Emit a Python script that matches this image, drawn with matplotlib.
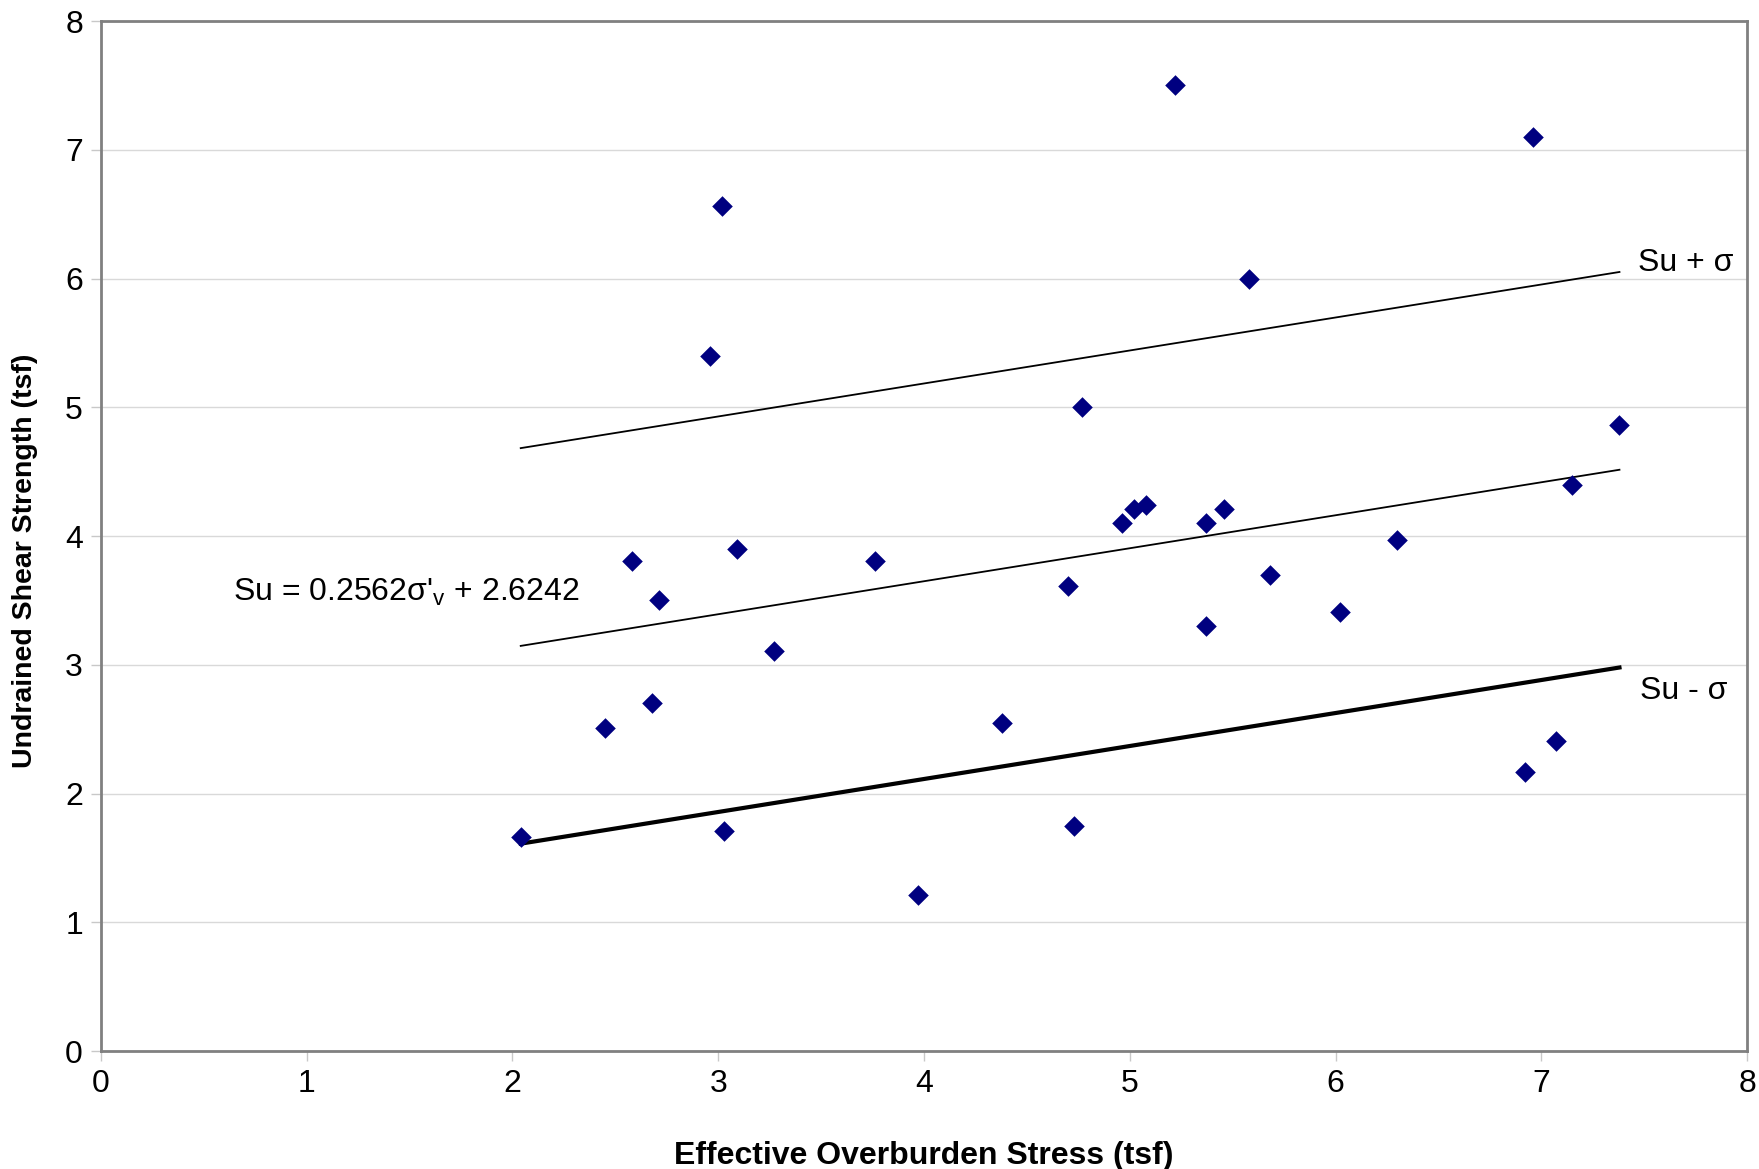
import numpy as np
import matplotlib
matplotlib.use("Agg")
import matplotlib.pyplot as plt

# -------------------------------------------
#  Data
# -------------------------------------------
stress = [5.22, 6.96, 3.02, 5.58, 2.96, 4.77, 7.38, 7.15, 5.08, 5.02, 4.96,
          5.46, 5.37, 6.30, 3.09, 2.58, 3.76, 2.71, 4.70, 5.68, 6.02, 5.37,
          3.27, 2.68, 2.45, 4.38, 7.07, 6.92, 2.04, 3.03, 4.73, 3.97]
strength = [7.50, 7.10, 6.56, 6.00, 5.40, 5.00, 4.86, 4.40, 4.24, 4.21, 4.10,
            4.21, 4.10, 3.97, 3.90, 3.81, 3.81, 3.50, 3.61, 3.70, 3.41, 3.30,
            3.11, 2.70, 2.51, 2.55, 2.41, 2.17, 1.66, 1.71, 1.75, 1.21]

slope = 0.2562
intercept = 2.6242
sigma = 1.536
line_x = [2.04, 7.38]

plt.rcParams['font.family'] = ['Liberation Sans', 'DejaVu Sans']

fig = plt.figure(figsize=(17.59, 11.69), dpi=100)
ax = fig.add_axes([0.0574, 0.1009, 0.9358, 0.8811])

lx = np.array(line_x)
fit = slope * lx + intercept
ax.plot(lx, fit + sigma, color='black', lw=1.3, zorder=2)
ax.plot(lx, fit, color='black', lw=1.3, zorder=2)
ax.plot(lx, fit - sigma, color='black', lw=3.0, zorder=2)

ax.scatter(stress, strength, marker='D', s=110, color='#000080', zorder=3,
           linewidths=0)

ax.text(0.64, 3.56, "Su = 0.2562σ'$_\\mathregular{v}$ + 2.6242", fontsize=23,
        va='center', ha='left')
ax.text(7.47, 6.12, "Su + σ", fontsize=23, va='center', ha='left')
ax.text(7.48, 2.80, "Su - σ", fontsize=23, va='center', ha='left')

ax.set_xlim(0, 8)
ax.set_ylim(0, 8)
ax.set_xticks(range(0, 9))
ax.set_yticks(range(0, 9))
ax.yaxis.grid(True, color='#d9d9d9', lw=1.0)
ax.set_axisbelow(True)
ax.tick_params(axis='both', direction='out', length=7, width=1, color='#c8c8c8',
               labelsize=23, pad=6)
for s in ax.spines.values():
    s.set_color('#808080')
    s.set_linewidth(2)

ax.set_xlabel("Effective Overburden Stress (tsf)", fontsize=23, fontweight='bold')
ax.set_ylabel("Undrained Shear Strength (tsf)", fontsize=20.5, fontweight='bold')
ax.xaxis.set_label_coords(0.5, -0.087)
ax.yaxis.set_label_coords(-0.038, 0.476)

fig.savefig("out.png", dpi=100)
